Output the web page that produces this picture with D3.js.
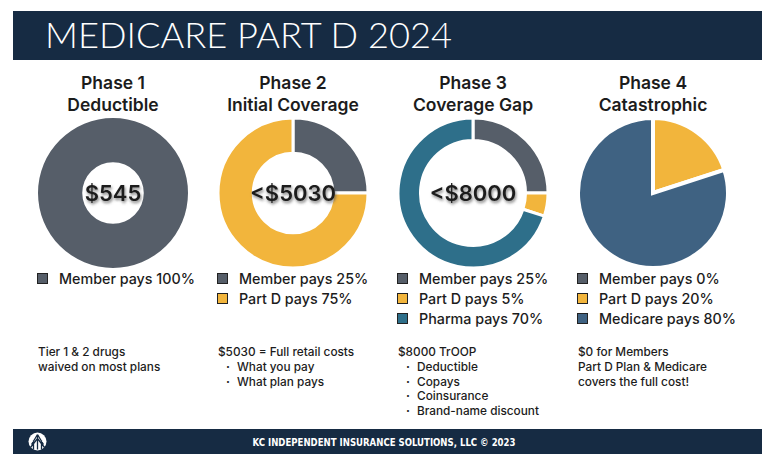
<!DOCTYPE html>
<html>
<head>
<meta charset="utf-8">
<script src="https://cdn.jsdelivr.net/npm/d3@7"></script>
<style>
  html, body { margin: 0; padding: 0; background: #fff; }
  svg { display: block; }
  text { font-family: Inter, "Open Sans", sans-serif; }
</style>
</head>
<body>
<svg id="chart" width="775" height="465"></svg>
<script>
// ---------- data ----------
const title = "MEDICARE PART D 2024";
const footer = "KC INDEPENDENT INSURANCE SOLUTIONS, LLC \u00A9 2023";
const phases = ["Phase 1", "Phase 2", "Phase 3", "Phase 4"];
const subtitles = ["Deductible", "Initial Coverage", "Coverage Gap", "Catastrophic"];
const centerLabels = ["$545", "<$5030", "<$8000", ""];

const phase1Labels = ["Member pays 100%"];
const phase1Values = [100];
const phase1Keys = ["member"];

const phase2Labels = ["Member pays 25%", "Part D pays 75%"];
const phase2Values = [25, 75];
const phase2Keys = ["member", "partd"];

const phase3Labels = ["Member pays 25%", "Part D pays 5%", "Pharma pays 70%"];
const phase3Values = [25, 5, 70];
const phase3Keys = ["member", "partd", "pharma"];

const phase4Labels = ["Member pays 0%", "Part D pays 20%", "Medicare pays 80%"];
const phase4Values = [0, 20, 80];
const phase4Keys = ["member", "partd", "medicare"];

const notes = [
  { head: ["Tier 1 & 2 drugs", "waived on most plans"], bullets: [] },
  { head: ["$5030 = Full retail costs"], bullets: ["What you pay", "What plan pays"] },
  { head: ["$8000 TrOOP"], bullets: ["Deductible", "Copays", "Coinsurance", "Brand-name discount"] },
  { head: ["$0 for Members", "Part D Plan & Medicare", "covers the full cost!"], bullets: [] }
];

// ---------- styles ----------
const colors = { member: "#565e69", partd: "#f2b53c", pharma: "#2e6f8a", medicare: "#3f6282" };
const navy = "#162b43";
const innerFrac = [0.41, 0.53, 0.70, 0];
const sepWidth = [0, 3, 3, 4];

const series = [
  { labels: phase1Labels, values: phase1Values, keys: phase1Keys },
  { labels: phase2Labels, values: phase2Values, keys: phase2Keys },
  { labels: phase3Labels, values: phase3Values, keys: phase3Keys },
  { labels: phase4Labels, values: phase4Values, keys: phase4Keys }
];

const svg = d3.select("#chart");
const defs = svg.append("defs");
const f = defs.append("filter").attr("id", "shadow")
  .attr("x", "-20%").attr("y", "-30%").attr("width", "140%").attr("height", "170%");
f.append("feDropShadow").attr("dx", 1).attr("dy", 2).attr("stdDeviation", 1.8)
  .attr("flood-color", "#555").attr("flood-opacity", 0.75);

// header
svg.append("rect").attr("x", 13).attr("y", 11).attr("width", 749).attr("height", 49).attr("fill", navy);
svg.append("text").attr("x", 45).attr("y", 48).text(title)
  .attr("fill", "#fff").attr("font-size", 35).attr("font-weight", 300)
  .style("font-family", "Lato, 'Open Sans', sans-serif")
  .attr("textLength", 407).attr("lengthAdjust", "spacingAndGlyphs");

// footer
svg.append("rect").attr("x", 13).attr("y", 429).attr("width", 749).attr("height", 25).attr("fill", navy);
svg.append("text").attr("x", 384).attr("y", 445.5).attr("text-anchor", "middle").text(footer)
  .attr("fill", "#fff").attr("font-size", 10).attr("font-weight", 700)
  .style("font-family", "'DejaVu Sans Condensed', 'Open Sans', sans-serif")
  .attr("textLength", 263).attr("lengthAdjust", "spacingAndGlyphs");
// logo
const logo = svg.append("g").attr("transform", "translate(37.5,441.5)");
logo.append("circle").attr("r", 9).attr("fill", "#fff");
logo.append("path").attr("d", "M0,-7 L0,8 M0,-7 L-6,3 M0,-7 L6,3 M0,-3 L-7,6 M0,-3 L7,6 M-4,-1 L-4,8 M4,-1 L4,8")
  .attr("stroke", navy).attr("stroke-width", 1.3).attr("fill", "none");

// scales
const x = d3.scalePoint().domain(phases).range([113, 653]);
const cy = 193;
const R = 75;
const pie = d3.pie().sort(null).value(d => d.value);

phases.forEach((p, i) => {
  const cx = x(p);
  const g = svg.append("g");

  // titles
  g.append("text").attr("x", cx).attr("y", 89).attr("text-anchor", "middle")
    .attr("font-size", 17.5).attr("font-weight", 600).attr("fill", "#1c1c1c").text(p);
  g.append("text").attr("x", cx).attr("y", 110.5).attr("text-anchor", "middle")
    .attr("font-size", 17.5).attr("font-weight", 600).attr("fill", "#1c1c1c").text(subtitles[i]);

  // donut
  const s = series[i];
  const data = s.values.map((v, j) => ({ value: v, key: s.keys[j] })).filter(d => d.value > 0);
  const arc = d3.arc().innerRadius(R * innerFrac[i]).outerRadius(R);
  const dg = g.append("g").attr("transform", `translate(${cx},${cy})`);
  dg.selectAll("path").data(pie(data)).join("path")
    .attr("d", arc)
    .attr("fill", d => colors[d.data.key])
    .attr("stroke", "#fff")
    .attr("stroke-width", sepWidth[i])
    .attr("stroke-linejoin", "miter");

  if (centerLabels[i]) {
    dg.append("text").attr("y", 8).attr("text-anchor", "middle")
      .attr("font-size", 22).attr("font-weight", 600).attr("fill", "#1a1a1a")
      .attr("filter", "url(#shadow)").text(centerLabels[i]);
  }

  // legend
  const lx = cx - 76;
  s.labels.forEach((lab, j) => {
    const ly = 273 + j * 20;
    g.append("rect").attr("x", lx + 0.5).attr("y", ly + 0.5).attr("width", 10).attr("height", 10)
      .attr("fill", colors[s.keys[j]]).attr("stroke", "#222").attr("stroke-width", 1);
    g.append("text").attr("x", lx + 22).attr("y", ly + 11).attr("font-size", 14.3)
      .attr("font-weight", 500).attr("fill", "#1c1c1c").text(lab);
  });

  // notes
  const nx = cx - 75;
  const n = notes[i];
  let ny = 356;
  n.head.forEach(h => {
    g.append("text").attr("x", nx).attr("y", ny).attr("font-size", 11.8).attr("font-weight", 500)
      .attr("fill", "#1c1c1c").text(h);
    ny += 14.8;
  });
  n.bullets.forEach(b => {
    g.append("text").attr("x", nx + 8).attr("y", ny).attr("font-size", 11.8).attr("font-weight", 700)
      .attr("fill", "#1c1c1c").text("\u00B7");
    g.append("text").attr("x", nx + 19).attr("y", ny).attr("font-size", 11.8).attr("font-weight", 500)
      .attr("fill", "#1c1c1c").text(b);
    ny += 14.8;
  });
});
</script>
</body>
</html>
